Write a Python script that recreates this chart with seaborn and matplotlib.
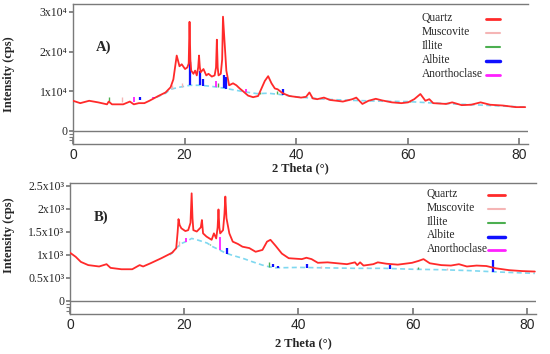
import numpy as np
import pandas as pd
import matplotlib.pyplot as plt
import seaborn as sns

sns.set_theme(style='white')
plt.rcParams['font.family'] = ['Liberation Serif', 'DejaVu Serif']

# ---------------- Panel A (values in 1e4 cps) ----------------
theta_a = [0, 1.3, 2.9, 4.5, 6.1, 6.4, 7.0, 9.0, 10.2, 10.9, 11.8, 12.8, 13.7, 15.3, 16.6,
           17.5, 18.0, 18.6, 19.1, 19.5, 20.1, 20.5, 20.75, 20.9, 21.05, 21.2, 21.6, 21.9,
           22.2, 22.45, 22.6, 22.75, 22.9, 23.4, 23.9, 24.3, 24.9, 25.4, 25.65, 25.8, 25.95,
           26.1, 26.5, 26.75, 26.9, 27.2, 27.5, 28.0, 28.7, 29.3, 29.9, 30.5, 31.4, 32.3,
           33.2, 33.8, 34.4, 35.0, 35.6, 36.2, 36.7, 37.6, 38.8, 40.9, 41.8, 42.4, 43.0,
           43.8, 45.0, 46.1, 47.3, 48.4, 50.1, 50.8, 51.9, 53.0, 54.3, 55.4, 57.2, 58.9,
           60.1, 61.2, 62.3, 63.2, 63.9, 64.6, 66.9, 68.0, 69.7, 71.4, 73.1, 74.8, 77.1,
           79.4, 81.1]
quartz_a = [0.76, 0.70, 0.76, 0.72, 0.67, 0.74, 0.67, 0.67, 0.74, 0.67, 0.70, 0.70, 0.76, 0.88, 0.97,
            1.10, 1.30, 1.90, 1.63, 1.68, 1.56, 1.60, 1.70, 2.75, 1.80, 1.52, 1.44, 1.52,
            1.40, 1.60, 1.90, 1.60, 1.48, 1.56, 1.40, 1.44, 1.37, 1.40, 1.60, 2.30, 1.60,
            1.40, 1.44, 1.80, 2.88, 2.20, 1.52, 1.15, 1.20, 1.15, 1.07, 1.00, 0.89, 0.85,
            0.88, 1.07, 1.26, 1.38, 1.20, 1.07, 1.05, 0.95, 0.88, 0.84, 0.86, 0.97, 0.82,
            0.80, 0.84, 0.78, 0.76, 0.74, 0.80, 0.84, 0.68, 0.76, 0.81, 0.77, 0.72, 0.70,
            0.72, 0.80, 0.93, 0.76, 0.80, 0.70, 0.68, 0.72, 0.65, 0.66, 0.72, 0.66, 0.64,
            0.60, 0.60]
hump_theta_a = [15, 16.6, 17.5, 19, 21, 23, 25, 27, 29, 31, 33, 35, 37, 40, 45, 50, 55, 60, 65, 70, 75, 81]
hump_a = [0.85, 0.95, 1.05, 1.10, 1.15, 1.15, 1.12, 1.08, 1.03, 0.98, 0.94, 0.95, 0.92, 0.86,
          0.80, 0.77, 0.75, 0.74, 0.70, 0.67, 0.64, 0.60]
albite_pos_a = [12.1, 14.5, 21.0, 22.7, 23.4, 27.0, 27.5, 37.6]
albite_top_a = [0.78, 0.82, 1.75, 1.50, 1.30, 1.40, 1.35, 1.05]
anor_pos_a = [11.0, 14.3, 25.6, 31.0]
anor_top_a = [0.72, 0.83, 1.25, 1.05]
illite_pos_a = [6.5, 26.0, 33.5, 36.5, 60.5]
illite_top_a = [0.72, 1.20, 0.98, 1.00, 0.76]
musc_pos_a = [8.8, 17.8, 19.5, 45.0, 55.0]
musc_top_a = [0.72, 1.15, 1.20, 0.82, 0.78]

# ---------------- Panel B (values in 1e3 cps) ----------------
theta_b = [0, 1.0, 1.9, 3.2, 5.1, 6.4, 7.1, 9.0, 10.9, 11.9, 12.2, 12.8, 14.1, 16.0, 17.9,
           18.6, 18.85, 19.0, 19.2, 19.5, 20.2, 20.7, 21.1, 21.3, 21.45, 21.6, 22.2, 22.9,
           23.1, 23.3, 23.9, 24.8, 25.2, 25.6, 25.85, 26.0, 26.15, 26.3, 26.8, 27.05, 27.2,
           27.4, 27.9, 28.5, 29.4, 30.2, 31.4, 32.5, 33.7, 34.5, 35.1, 36.0, 37.1, 38.3,
           40.6, 41.4, 42.3, 43.4, 45.1, 46.8, 48.5, 49.9, 50.3, 50.8, 51.4, 53.1, 53.9,
           55.4, 57.4, 59.9, 61.0, 61.9, 63.0, 65.0, 66.7, 68.1, 69.5, 71.2, 72.9, 74.6,
           76.9, 79.2, 81.4]
quartz_b = [1.05, 0.96, 0.85, 0.78, 0.75, 0.80, 0.72, 0.69, 0.69, 0.76, 0.78, 0.75, 0.82, 0.93, 1.05,
            1.15, 1.50, 1.78, 1.65, 1.58, 1.52, 1.54, 1.70, 2.34, 1.80, 1.54, 1.51, 1.60,
            1.76, 1.47, 1.40, 1.33, 1.47, 1.36, 1.60, 1.99, 1.60, 1.47, 1.54, 1.90, 2.27,
            1.80, 1.47, 1.29, 1.24, 1.18, 1.15, 1.07, 1.11, 1.29, 1.33, 1.20, 1.03, 0.93,
            0.91, 0.94, 0.91, 0.83, 0.84, 0.82, 0.80, 0.84, 0.78, 0.84, 0.77, 0.80, 0.84,
            0.81, 0.79, 0.83, 0.87, 0.91, 0.82, 0.78, 0.77, 0.80, 0.75, 0.77, 0.76, 0.71,
            0.67, 0.65, 0.64]
hump_theta_b = [17.5, 18.6, 19.5, 20.5, 21.3, 22.5, 24, 25, 26, 27.3, 28.5, 30.2, 32, 33.7,
                35, 36, 40, 45, 50, 55, 60, 65, 70, 75, 81.4]
hump_b = [1.00, 1.15, 1.25, 1.30, 1.36, 1.32, 1.26, 1.18, 1.12, 1.04, 0.99, 0.93, 0.85, 0.78,
          0.74, 0.72, 0.73, 0.72, 0.71, 0.71, 0.69, 0.68, 0.66, 0.63, 0.60]
albite_pos_b = [27.5, 35.5, 36.5, 41.5, 56.0, 74.0]
albite_top_b = [1.15, 0.80, 0.76, 0.80, 0.78, 0.89]
anor_pos_b = [20.3, 26.2]
anor_top_b = [1.36, 1.40]
illite_pos_b = [24.6, 34.9, 61.0]
illite_top_b = [1.24, 0.84, 0.74]
musc_pos_b = [19.0, 44.0, 52.0, 66.0]
musc_top_b = [1.30, 0.76, 0.74, 0.71]

phases = ['Quartz', 'Muscovite', 'Illite', 'Albite', 'Anorthoclase']
phase_colors = {'Quartz': '#ff2a2a', 'Muscovite': '#f5b5b5', 'Illite': '#4caf50',
                'Albite': '#1010ff', 'Anorthoclase': '#ff20ff'}
phase_lw = {'Quartz': 2.0, 'Muscovite': 1.5, 'Illite': 1.5, 'Albite': 2.5, 'Anorthoclase': 2.0}

ytick_a = [0, 1e4, 2e4, 3e4]
ytick_lab_a = ['0', '1x10⁴', '2x10⁴', '3x10⁴']
ytick_b = [0, 0.5e3, 1e3, 1.5e3, 2e3, 2.5e3]
ytick_lab_b = ['0', '0.5x10³', '1x10³', '1.5x10³', '2x10³', '2.5x10³']

fig = plt.figure(figsize=(5.5, 3.54), dpi=100)
ax_a = fig.add_axes([73 / 550, 1 - 144 / 354, 455 / 550, 140 / 354])
ax_b = fig.add_axes([70 / 550, 1 - 314 / 354, 466 / 550, 131 / 354])

panels = [
    dict(ax=ax_a, scale=1e4, th=theta_a, q=quartz_a, hth=hump_theta_a, hv=hump_a,
         sticks={'Albite': (albite_pos_a, albite_top_a), 'Anorthoclase': (anor_pos_a, anor_top_a),
                 'Illite': (illite_pos_a, illite_top_a), 'Muscovite': (musc_pos_a, musc_top_a)},
         ylim=(-0.33e4, 3.2e4), yt=ytick_a, ytl=ytick_lab_a, brk=[-0.088e4, -0.164e4, -0.239e4],
         tag='A)', tag_y=0.69, xpad=0, ylab=(-0.127, 0.5),
         leg_x=0.767, leg_h=(0.907, 0.938), leg_y=0.90, leg_dy=0.10),
    dict(ax=ax_b, scale=1e3, th=theta_b, q=quartz_b, hth=hump_theta_b, hv=hump_b,
         sticks={'Albite': (albite_pos_b, albite_top_b), 'Anorthoclase': (anor_pos_b, anor_top_b),
                 'Illite': (illite_pos_b, illite_top_b), 'Muscovite': (musc_pos_b, musc_top_b)},
         ylim=(-0.283e3, 2.565e3), yt=ytick_b, ytl=ytick_lab_b, brk=[-0.076e3, -0.141e3, -0.207e3],
         tag='B)', tag_y=0.74, xpad=3.5, ylab=(-0.118, 0.6),
         leg_x=0.766, leg_h=(0.897, 0.933), leg_y=0.916, leg_dy=0.105),
]

grey = '#7a7a7a'
for p in panels:
    ax = p['ax']
    scale = p['scale']
    ax.axhline(0, color=grey, lw=1.0, zorder=1)
    hump_df = pd.DataFrame({'theta': p['hth'], 'val': np.array(p['hv']) * scale})
    sns.lineplot(data=hump_df, x='theta', y='val', ax=ax, color='#7fd8f0', lw=1.2,
                 linestyle=(0, (3, 2)), estimator=None, sort=False, zorder=2)
    for name, (pos, top) in p['sticks'].items():
        base = np.interp(pos, p['hth'], p['hv']) * scale
        ax.vlines(pos, base, np.array(top) * scale, color=phase_colors[name],
                  lw=phase_lw[name] * 0.65, zorder=3)
    q_df = pd.DataFrame({'theta': p['th'], 'val': np.array(p['q']) * scale})
    sns.lineplot(data=q_df, x='theta', y='val', ax=ax, color=phase_colors['Quartz'], lw=1.3,
                 estimator=None, sort=False, zorder=4)

    ax.set_xlim(0, 81.6)
    ax.set_ylim(*p['ylim'])
    ax.set_xticks([0, 20, 40, 60, 80])
    ax.set_xticklabels(['0', '20', '40', '60', '80'], family=['Liberation Sans', 'DejaVu Sans'],
                       fontsize=10)
    ax.set_yticks(p['yt'])
    ax.set_yticklabels(p['ytl'], fontsize=8.5)
    ax.set_yticks(p['brk'], minor=True)
    ax.tick_params(axis='x', direction='in', length=4, color=grey, pad=3, bottom=True)
    ax.tick_params(axis='y', which='major', direction='out', length=3, color=grey, pad=1, left=True)
    ax.tick_params(axis='y', which='minor', direction='out', length=3, width=0.8, color=grey, left=True)
    for side in ['top', 'left', 'bottom']:
        ax.spines[side].set_color(grey)
        ax.spines[side].set_linewidth(1.0)
    ax.spines['right'].set_visible(False)

    ax.set_xlabel('2 Theta (°)', fontsize=9, fontweight='bold', labelpad=p['xpad'])
    ax.set_ylabel('Intensity (cps)', fontsize=9, fontweight='bold')
    ax.yaxis.set_label_coords(*p['ylab'])
    ax.text(0.05, p['tag_y'], p['tag'], transform=ax.transAxes, fontsize=10.5,
            fontweight='bold', ha='left', va='center')

    # legend: labels left-aligned, short line samples on the right
    for i, name in enumerate(phases):
        y = p['leg_y'] - i * p['leg_dy']
        ax.text(p['leg_x'], y, name, transform=ax.transAxes, fontsize=8.3,
                ha='left', va='center')
        ax.plot(p['leg_h'], [y - 0.01, y - 0.01], transform=ax.transAxes,
                color=phase_colors[name], lw=phase_lw[name], clip_on=False, zorder=5)

fig.savefig('out.png', dpi=100, facecolor='white')
